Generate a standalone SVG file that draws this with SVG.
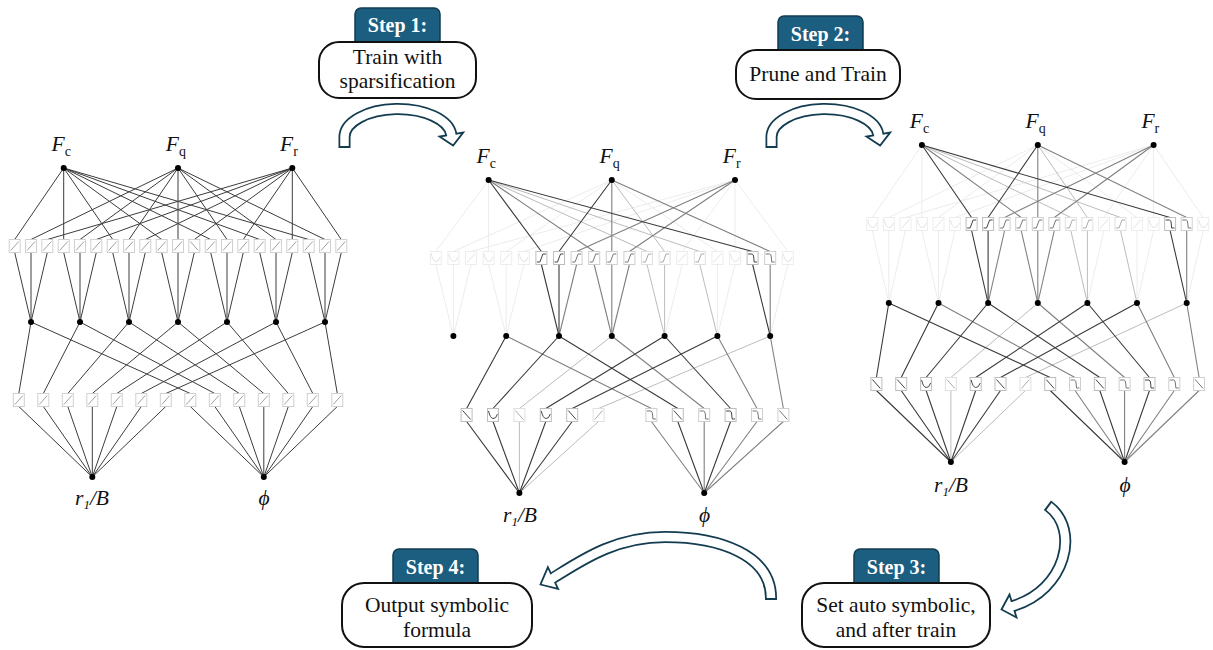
<svg xmlns="http://www.w3.org/2000/svg" width="1213" height="650" viewBox="0 0 1213 650">
<style>
  text{font-family:"Liberation Serif","DejaVu Serif",serif;fill:#111}
  .e1{fill:none;stroke:#3c3c3c;stroke-width:1}
  .eD{fill:none;stroke:#3a3a3a;stroke-width:1.1}
  .eM{fill:none;stroke:#808080;stroke-width:1.1}
  .eL{fill:none;stroke:#bcbcbc;stroke-width:1}
  .eF{fill:none;stroke:#ececec;stroke-width:1}
  .node{fill:#000}
  .b0{color:#d0d0d0;stroke:#a0a0a0}
  .bD{color:#bdbdbd;stroke:#444}
  .bM{color:#cfcfcf;stroke:#777}
  .bL{color:#e0e0e0;stroke:#aaa}
  .bF{color:#ededed;stroke:#e2e2e2}
  .lf{font-size:21.5px;font-style:italic}
  .sb{font-size:14px;font-style:normal}
  .lo{font-size:21.5px;font-style:italic}
  .tab{fill:#1b5e7f;stroke:#133c50;stroke-width:1.5}
  .card{fill:#fff;stroke:#111;stroke-width:2}
  .step{font-size:20px;font-weight:bold;fill:#fff;text-anchor:middle}
  .desc{font-size:21.5px;text-anchor:middle}
  .ar-o{fill:none;stroke:#133c50;stroke-width:12}
  .ar-i{fill:none;stroke:#fff;stroke-width:8.5}
  .ar-h{fill:#fff;stroke:#133c50;stroke-width:1.8}
</style>
<defs>
  <!-- activation boxes: border uses currentColor, curve inherits stroke -->
  <g id="bx-up"><rect x="-5.5" y="-6.5" width="11" height="13" fill="#fff" stroke="currentColor"/><path d="M-4 4.5L4 -4.5" fill="none"/></g>
  <g id="bx-dn"><rect x="-5.5" y="-6.5" width="11" height="13" fill="#fff" stroke="currentColor"/><path d="M-4 -4.5L4 4.5" fill="none"/></g>
  <g id="bx-st"><rect x="-5.5" y="-6.5" width="11" height="13" fill="#fff" stroke="currentColor"/><path d="M-4.5 4L-1.5 4L1.5 -4L4.5 -4" fill="none"/></g>
  <g id="bx-hk"><rect x="-5.5" y="-6.5" width="11" height="13" fill="#fff" stroke="currentColor"/><path d="M-4.5 -4L-0.5 -4Q1 -4 1.2 0L1.5 4L4.5 4" fill="none"/></g>
  <g id="bx-cv"><rect x="-5.5" y="-6.5" width="11" height="13" fill="#fff" stroke="currentColor"/><path d="M-4.5 -4Q-3 3 0 3.5Q3 4 4.5 -1" fill="none"/></g>
  <!-- curved block arrow used between the upper networks -->
  <g id="arc-arrow">
    <path class="ar-o" d="M344.5 148L344.5 137A53.5 28 0 0 1 451.3 134.6"/>
    <polygon class="ar-h" points="463.1,132.6 453.1,145.5 439.5,136.6"/>
    <path class="ar-i" d="M344.5 146L344.5 137A53.5 28 0 0 1 451.3 134.6L451.7 137.1"/>
  </g>
</defs>

<!-- ===== Network 1: 3-7-2 before training ===== -->
<g id="net1">
  <g id="net1-connectors" class="e1">
    <path d="M63.7 168L14.7 239.5M14.7 252.5L31 322"/>
    <path d="M178 168L31 239.5M31 252.5L31 322"/>
    <path d="M292.3 168L47.3 239.5M47.3 252.5L31 322"/>
    <path d="M63.7 168L63.7 239.5M63.7 252.5L80 322"/>
    <path d="M178 168L80 239.5M80 252.5L80 322"/>
    <path d="M292.3 168L96.3 239.5M96.3 252.5L80 322"/>
    <path d="M63.7 168L112.7 239.5M112.7 252.5L129 322"/>
    <path d="M178 168L129 239.5M129 252.5L129 322"/>
    <path d="M292.3 168L145.3 239.5M145.3 252.5L129 322"/>
    <path d="M63.7 168L161.7 239.5M161.7 252.5L178 322"/>
    <path d="M178 168L178 239.5M178 252.5L178 322"/>
    <path d="M292.3 168L194.3 239.5M194.3 252.5L178 322"/>
    <path d="M63.7 168L210.7 239.5M210.7 252.5L227 322"/>
    <path d="M178 168L227 239.5M227 252.5L227 322"/>
    <path d="M292.3 168L243.3 239.5M243.3 252.5L227 322"/>
    <path d="M63.7 168L259.7 239.5M259.7 252.5L276 322"/>
    <path d="M178 168L276 239.5M276 252.5L276 322"/>
    <path d="M292.3 168L292.3 239.5M292.3 252.5L276 322"/>
    <path d="M63.7 168L308.7 239.5M308.7 252.5L325 322"/>
    <path d="M178 168L325 239.5M325 252.5L325 322"/>
    <path d="M292.3 168L341.3 239.5M341.3 252.5L325 322"/>
    <path d="M31 322L18.8 393.5M18.8 406.5L92.3 477"/>
    <path d="M80 322L43.3 393.5M43.3 406.5L92.3 477"/>
    <path d="M129 322L67.8 393.5M67.8 406.5L92.3 477"/>
    <path d="M178 322L92.3 393.5M92.3 406.5L92.3 477"/>
    <path d="M227 322L116.8 393.5M116.8 406.5L92.3 477"/>
    <path d="M276 322L141.3 393.5M141.3 406.5L92.3 477"/>
    <path d="M325 322L165.8 393.5M165.8 406.5L92.3 477"/>
    <path d="M31 322L190.3 393.5M190.3 406.5L263.8 477"/>
    <path d="M80 322L214.8 393.5M214.8 406.5L263.8 477"/>
    <path d="M129 322L239.3 393.5M239.3 406.5L263.8 477"/>
    <path d="M178 322L263.8 393.5M263.8 406.5L263.8 477"/>
    <path d="M227 322L288.3 393.5M288.3 406.5L263.8 477"/>
    <path d="M276 322L312.8 393.5M312.8 406.5L263.8 477"/>
    <path d="M325 322L337.3 393.5M337.3 406.5L263.8 477"/>
  </g>
  <g id="net1-act1" class="b0">
    <use href="#bx-up" x="14.7" y="246"/><use href="#bx-up" x="31" y="246"/><use href="#bx-up" x="47.3" y="246"/>
    <use href="#bx-up" x="63.7" y="246"/><use href="#bx-up" x="80" y="246"/><use href="#bx-up" x="96.3" y="246"/>
    <use href="#bx-up" x="112.7" y="246"/><use href="#bx-up" x="129" y="246"/><use href="#bx-up" x="145.3" y="246"/>
    <use href="#bx-up" x="161.7" y="246"/><use href="#bx-up" x="178" y="246"/><use href="#bx-dn" x="194.3" y="246"/>
    <use href="#bx-up" x="210.7" y="246"/><use href="#bx-up" x="227" y="246"/><use href="#bx-up" x="243.3" y="246"/>
    <use href="#bx-up" x="259.7" y="246"/><use href="#bx-up" x="276" y="246"/><use href="#bx-up" x="292.3" y="246"/>
    <use href="#bx-up" x="308.7" y="246"/><use href="#bx-up" x="325" y="246"/><use href="#bx-up" x="341.3" y="246"/>
  </g>
  <g id="net1-act2" class="b0">
    <use href="#bx-up" x="18.8" y="400"/><use href="#bx-up" x="43.3" y="400"/><use href="#bx-up" x="67.8" y="400"/>
    <use href="#bx-up" x="92.3" y="400"/><use href="#bx-up" x="116.8" y="400"/><use href="#bx-up" x="141.3" y="400"/>
    <use href="#bx-up" x="165.8" y="400"/><use href="#bx-up" x="190.3" y="400"/><use href="#bx-up" x="214.8" y="400"/>
    <use href="#bx-up" x="239.3" y="400"/><use href="#bx-up" x="263.8" y="400"/><use href="#bx-up" x="288.3" y="400"/>
    <use href="#bx-up" x="312.8" y="400"/><use href="#bx-up" x="337.3" y="400"/>
  </g>
  <g id="net1-Fc"><circle class="node" cx="63.7" cy="168" r="3"/><text class="lf" x="51.5" y="151">F<tspan class="sb" dy="5">c</tspan></text></g>
  <g id="net1-Fq"><circle class="node" cx="178" cy="168" r="3"/><text class="lf" x="165.8" y="151">F<tspan class="sb" dy="5">q</tspan></text></g>
  <g id="net1-Fr"><circle class="node" cx="292.3" cy="168" r="3"/><text class="lf" x="280.1" y="151">F<tspan class="sb" dy="5">r</tspan></text></g>
  <g id="net1-hidden">
    <circle class="node" cx="31" cy="322" r="3"/><circle class="node" cx="80" cy="322" r="3"/><circle class="node" cx="129" cy="322" r="3"/>
    <circle class="node" cx="178" cy="322" r="3"/><circle class="node" cx="227" cy="322" r="3"/><circle class="node" cx="276" cy="322" r="3"/>
    <circle class="node" cx="325" cy="322" r="3"/>
  </g>
  <g id="net1-r1B"><circle class="node" cx="92.3" cy="477" r="3"/><text class="lo" x="75" y="505">r<tspan font-size="13" dy="4">1</tspan><tspan dy="-4">/B</tspan></text></g>
  <g id="net1-phi"><circle class="node" cx="263.8" cy="477" r="3"/><text class="lo" x="264" y="505" text-anchor="middle">ϕ</text></g>
</g>

<!-- ===== Network 2: after sparsification ===== -->
<g id="net2">
  <g id="net2-connectors">
    <path class="eF" d="M488.6 180L435.8 251.5M435.8 264.5L453.4 336"/>
    <path class="eF" d="M611.8 180L453.4 251.5M453.4 264.5L453.4 336"/>
    <path class="eF" d="M735 180L471 251.5M471 264.5L453.4 336"/>
    <path class="eF" d="M488.6 180L488.6 251.5M488.6 264.5L506.2 336"/>
    <path class="eF" d="M611.8 180L506.2 251.5M506.2 264.5L506.2 336"/>
    <path class="eF" d="M735 180L523.8 251.5M523.8 264.5L506.2 336"/>
    <path class="eF" d="M735 180L682.2 251.5M682.2 264.5L664.6 336"/>
    <path class="eF" d="M611.8 180L717.4 251.5M717.4 264.5L717.4 336"/>
    <path class="eF" d="M735 180L735 251.5M735 264.5L717.4 336"/>
    <path class="eF" d="M735 180L787.8 251.5M787.8 264.5L770.2 336"/>
    <path class="eL" d="M488.6 180L647 251.5M647 264.5L664.6 336"/>
    <path class="eL" d="M611.8 180L664.6 251.5M664.6 264.5L664.6 336"/>
    <path class="eL" d="M488.6 180L699.8 251.5M699.8 264.5L717.4 336"/>
    <path class="eM" d="M735 180L576.6 251.5M576.6 264.5L559 336"/>
    <path class="eM" d="M488.6 180L594.2 251.5M594.2 264.5L611.8 336"/>
    <path class="eM" d="M611.8 180L611.8 251.5M611.8 264.5L611.8 336"/>
    <path class="eM" d="M735 180L629.4 251.5M629.4 264.5L611.8 336"/>
    <path class="eM" d="M611.8 180L770.2 251.5M770.2 264.5L770.2 336"/>
    <path class="eD" d="M488.6 180L541.4 251.5M541.4 264.5L559 336"/>
    <path class="eD" d="M611.8 180L559 251.5M559 264.5L559 336"/>
    <path class="eD" d="M488.6 180L752.6 251.5M752.6 264.5L770.2 336"/>
    <path class="eL" d="M611.8 336L519.4 408.5M519.4 421.5L519.4 493"/>
    <path class="eL" d="M770.2 336L598.6 408.5M598.6 421.5L519.4 493"/>
    <path class="eM" d="M506.2 336L651.4 408.5M651.4 421.5L704.2 493"/>
    <path class="eM" d="M611.8 336L704.2 408.5M704.2 421.5L704.2 493"/>
    <path class="eM" d="M717.4 336L757 408.5M757 421.5L704.2 493"/>
    <path class="eM" d="M770.2 336L783.4 408.5M783.4 421.5L704.2 493"/>
    <path class="eD" d="M506.2 336L466.6 408.5M466.6 421.5L519.4 493"/>
    <path class="eD" d="M559 336L493 408.5M493 421.5L519.4 493"/>
    <path class="eD" d="M664.6 336L545.8 408.5M545.8 421.5L519.4 493"/>
    <path class="eD" d="M717.4 336L572.2 408.5M572.2 421.5L519.4 493"/>
    <path class="eD" d="M559 336L677.8 408.5M677.8 421.5L704.2 493"/>
    <path class="eD" d="M664.6 336L730.6 408.5M730.6 421.5L704.2 493"/>
  </g>
  <g id="net2-act1">
    <use href="#bx-cv" class="bF" x="435.8" y="258"/><use href="#bx-cv" class="bF" x="453.4" y="258"/><use href="#bx-up" class="bF" x="471" y="258"/>
    <use href="#bx-cv" class="bF" x="488.6" y="258"/><use href="#bx-up" class="bF" x="506.2" y="258"/><use href="#bx-cv" class="bF" x="523.8" y="258"/>
    <use href="#bx-st" class="bD" x="541.4" y="258"/><use href="#bx-st" class="bD" x="559" y="258"/><use href="#bx-st" class="bM" x="576.6" y="258"/>
    <use href="#bx-st" class="bM" x="594.2" y="258"/><use href="#bx-st" class="bM" x="611.8" y="258"/><use href="#bx-st" class="bM" x="629.4" y="258"/>
    <use href="#bx-st" class="bL" x="647" y="258"/><use href="#bx-st" class="bL" x="664.6" y="258"/><use href="#bx-up" class="bF" x="682.2" y="258"/>
    <use href="#bx-st" class="bL" x="699.8" y="258"/><use href="#bx-up" class="bF" x="717.4" y="258"/><use href="#bx-cv" class="bF" x="735" y="258"/>
    <use href="#bx-hk" class="bD" x="752.6" y="258"/><use href="#bx-hk" class="bM" x="770.2" y="258"/><use href="#bx-cv" class="bF" x="787.8" y="258"/>
  </g>
  <g id="net2-act2">
    <use href="#bx-dn" class="bD" x="466.6" y="415"/><use href="#bx-cv" class="bD" x="493" y="415"/><use href="#bx-dn" class="bL" x="519.4" y="415"/>
    <use href="#bx-cv" class="bD" x="545.8" y="415"/><use href="#bx-dn" class="bD" x="572.2" y="415"/><use href="#bx-up" class="bL" x="598.6" y="415"/>
    <use href="#bx-hk" class="bM" x="651.4" y="415"/><use href="#bx-dn" class="bD" x="677.8" y="415"/><use href="#bx-hk" class="bM" x="704.2" y="415"/>
    <use href="#bx-hk" class="bD" x="730.6" y="415"/><use href="#bx-hk" class="bM" x="757" y="415"/><use href="#bx-dn" class="bM" x="783.4" y="415"/>
  </g>
  <g id="net2-Fc"><circle class="node" cx="488.6" cy="180" r="3"/><text class="lf" x="476.5" y="163">F<tspan class="sb" dy="5">c</tspan></text></g>
  <g id="net2-Fq"><circle class="node" cx="611.8" cy="180" r="3"/><text class="lf" x="599.6" y="163">F<tspan class="sb" dy="5">q</tspan></text></g>
  <g id="net2-Fr"><circle class="node" cx="735" cy="180" r="3"/><text class="lf" x="722.8" y="163">F<tspan class="sb" dy="5">r</tspan></text></g>
  <g id="net2-hidden">
    <circle class="node" cx="453.4" cy="336" r="3"/><circle class="node" cx="506.2" cy="336" r="3"/><circle class="node" cx="559" cy="336" r="3"/>
    <circle class="node" cx="611.8" cy="336" r="3"/><circle class="node" cx="664.6" cy="336" r="3"/><circle class="node" cx="717.4" cy="336" r="3"/>
    <circle class="node" cx="770.2" cy="336" r="3"/>
  </g>
  <g id="net2-r1B"><circle class="node" cx="519.4" cy="493" r="3"/><text class="lo" x="503" y="522">r<tspan font-size="13" dy="4">1</tspan><tspan dy="-4">/B</tspan></text></g>
  <g id="net2-phi"><circle class="node" cx="704.2" cy="493" r="3"/><text class="lo" x="704.5" y="522" text-anchor="middle">ϕ</text></g>
</g>

<!-- ===== Network 3: pruned and retrained ===== -->
<g id="net3">
  <g id="net3-connectors">
    <path class="eF" d="M921.9 145L872.3 217.5M872.3 230.5L888.8 303"/>
    <path class="eF" d="M1037.8 145L888.8 217.5M888.8 230.5L888.8 303"/>
    <path class="eF" d="M1153.6 145L905.4 217.5M905.4 230.5L888.8 303"/>
    <path class="eF" d="M921.9 145L921.9 217.5M921.9 230.5L938.5 303"/>
    <path class="eF" d="M1037.8 145L938.5 217.5M938.5 230.5L938.5 303"/>
    <path class="eF" d="M1153.6 145L955 217.5M955 230.5L938.5 303"/>
    <path class="eF" d="M1153.6 145L1103.9 217.5M1103.9 230.5L1087.4 303"/>
    <path class="eF" d="M1037.8 145L1137 217.5M1137 230.5L1137 303"/>
    <path class="eF" d="M1153.6 145L1153.6 217.5M1153.6 230.5L1137 303"/>
    <path class="eF" d="M1153.6 145L1203.2 217.5M1203.2 230.5L1186.7 303"/>
    <path class="eL" d="M921.9 145L1070.8 217.5M1070.8 230.5L1087.4 303"/>
    <path class="eL" d="M1037.8 145L1087.4 217.5M1087.4 230.5L1087.4 303"/>
    <path class="eL" d="M921.9 145L1120.5 217.5M1120.5 230.5L1137 303"/>
    <path class="eM" d="M1153.6 145L1004.6 217.5M1004.6 230.5L988.1 303"/>
    <path class="eM" d="M921.9 145L1021.2 217.5M1021.2 230.5L1037.8 303"/>
    <path class="eM" d="M1037.8 145L1037.8 217.5M1037.8 230.5L1037.8 303"/>
    <path class="eM" d="M1153.6 145L1054.3 217.5M1054.3 230.5L1037.8 303"/>
    <path class="eM" d="M1037.8 145L1186.7 217.5M1186.7 230.5L1186.7 303"/>
    <path class="eD" d="M921.9 145L971.6 217.5M971.6 230.5L988.1 303"/>
    <path class="eD" d="M1037.8 145L988.1 217.5M988.1 230.5L988.1 303"/>
    <path class="eD" d="M921.9 145L1170.1 217.5M1170.1 230.5L1186.7 303"/>
    <path class="eL" d="M1037.8 303L950.9 377.5M950.9 390.5L950.9 462"/>
    <path class="eL" d="M1186.7 303L1025.4 377.5M1025.4 390.5L950.9 462"/>
    <path class="eM" d="M938.5 303L1075 377.5M1075 390.5L1124.6 462"/>
    <path class="eM" d="M1037.8 303L1124.6 377.5M1124.6 390.5L1124.6 462"/>
    <path class="eM" d="M1137 303L1174.3 377.5M1174.3 390.5L1124.6 462"/>
    <path class="eM" d="M1186.7 303L1199.1 377.5M1199.1 390.5L1124.6 462"/>
    <path class="eD" d="M888.8 303L876.4 377.5M876.4 390.5L950.9 462"/>
    <path class="eD" d="M938.5 303L901.2 377.5M901.2 390.5L950.9 462"/>
    <path class="eD" d="M988.1 303L926.1 377.5M926.1 390.5L950.9 462"/>
    <path class="eD" d="M1087.4 303L975.7 377.5M975.7 390.5L950.9 462"/>
    <path class="eD" d="M1137 303L1000.5 377.5M1000.5 390.5L950.9 462"/>
    <path class="eD" d="M888.8 303L1050.2 377.5M1050.2 390.5L1124.6 462"/>
    <path class="eD" d="M988.1 303L1099.8 377.5M1099.8 390.5L1124.6 462"/>
    <path class="eD" d="M1087.4 303L1149.5 377.5M1149.5 390.5L1124.6 462"/>
  </g>
  <g id="net3-act1">
    <use href="#bx-cv" class="bF" x="872.3" y="224"/><use href="#bx-cv" class="bF" x="888.8" y="224"/><use href="#bx-up" class="bF" x="905.4" y="224"/>
    <use href="#bx-cv" class="bF" x="921.9" y="224"/><use href="#bx-up" class="bF" x="938.5" y="224"/><use href="#bx-cv" class="bF" x="955" y="224"/>
    <use href="#bx-st" class="bD" x="971.6" y="224"/><use href="#bx-st" class="bD" x="988.1" y="224"/><use href="#bx-st" class="bM" x="1004.6" y="224"/>
    <use href="#bx-st" class="bM" x="1021.2" y="224"/><use href="#bx-st" class="bM" x="1037.8" y="224"/><use href="#bx-st" class="bM" x="1054.3" y="224"/>
    <use href="#bx-st" class="bL" x="1070.8" y="224"/><use href="#bx-st" class="bL" x="1087.4" y="224"/><use href="#bx-up" class="bF" x="1103.9" y="224"/>
    <use href="#bx-st" class="bL" x="1120.5" y="224"/><use href="#bx-up" class="bF" x="1137" y="224"/><use href="#bx-cv" class="bF" x="1153.6" y="224"/>
    <use href="#bx-hk" class="bD" x="1170.1" y="224"/><use href="#bx-hk" class="bM" x="1186.7" y="224"/><use href="#bx-cv" class="bF" x="1203.2" y="224"/>
  </g>
  <g id="net3-act2">
    <use href="#bx-dn" class="bD" x="876.4" y="384"/><use href="#bx-dn" class="bD" x="901.2" y="384"/><use href="#bx-cv" class="bD" x="926.1" y="384"/>
    <use href="#bx-dn" class="bL" x="950.9" y="384"/><use href="#bx-cv" class="bD" x="975.7" y="384"/><use href="#bx-dn" class="bD" x="1000.5" y="384"/>
    <use href="#bx-up" class="bL" x="1025.4" y="384"/><use href="#bx-dn" class="bD" x="1050.2" y="384"/><use href="#bx-hk" class="bM" x="1075" y="384"/>
    <use href="#bx-dn" class="bD" x="1099.8" y="384"/><use href="#bx-hk" class="bM" x="1124.6" y="384"/><use href="#bx-hk" class="bD" x="1149.5" y="384"/>
    <use href="#bx-hk" class="bM" x="1174.3" y="384"/><use href="#bx-dn" class="bM" x="1199.1" y="384"/>
  </g>
  <g id="net3-Fc"><circle class="node" cx="921.9" cy="145" r="3"/><text class="lf" x="909.8" y="128">F<tspan class="sb" dy="5">c</tspan></text></g>
  <g id="net3-Fq"><circle class="node" cx="1037.8" cy="145" r="3"/><text class="lf" x="1025.6" y="128">F<tspan class="sb" dy="5">q</tspan></text></g>
  <g id="net3-Fr"><circle class="node" cx="1153.6" cy="145" r="3"/><text class="lf" x="1141.4" y="128">F<tspan class="sb" dy="5">r</tspan></text></g>
  <g id="net3-hidden">
    <circle class="node" cx="888.8" cy="303" r="3"/><circle class="node" cx="938.5" cy="303" r="3"/><circle class="node" cx="988.1" cy="303" r="3"/>
    <circle class="node" cx="1037.8" cy="303" r="3"/><circle class="node" cx="1087.4" cy="303" r="3"/><circle class="node" cx="1137" cy="303" r="3"/>
    <circle class="node" cx="1186.7" cy="303" r="3"/>
  </g>
  <g id="net3-r1B"><circle class="node" cx="950.9" cy="462" r="3"/><text class="lo" x="934" y="492">r<tspan font-size="13" dy="4">1</tspan><tspan dy="-4">/B</tspan></text></g>
  <g id="net3-phi"><circle class="node" cx="1124.6" cy="462" r="3"/><text class="lo" x="1125" y="492" text-anchor="middle">ϕ</text></g>
</g>

<!-- ===== process arrows ===== -->
<g id="flow-arrows">
  <use id="arrow-step1" href="#arc-arrow"/>
  <use id="arrow-step2" href="#arc-arrow" x="427"/>
  <g id="arrow-step3">
    <path class="ar-o" d="M1047.4 505.3L1049 506.5C1080 530 1066 590 1013 606"/>
    <polygon class="ar-h" points="1009.5,594.5 1001.5,609.5 1016.5,617.5"/>
    <path class="ar-i" d="M1049 506.5C1080 530 1066 590 1013 606L1010.6 606.7"/>
  </g>
  <g id="arrow-step4">
    <path class="ar-o" d="M771 600L771 598C771 555 720 537 665 537C615 537 582 560 553 578"/>
    <polygon class="ar-h" points="547.9,567.1 540.5,584.5 558.1,588.9"/>
    <path class="ar-i" d="M771 598C771 555 720 537 665 537C615 537 582 560 553 578L550.7 579.4"/>
  </g>
</g>

<!-- ===== step labels ===== -->
<g id="step1">
  <rect class="tab" x="355" y="8" width="85" height="42" rx="6"/>
  <text class="step" x="397.5" y="32">Step 1:</text>
  <rect class="card" x="319" y="42" width="157" height="56" rx="20"/>
  <text class="desc" x="397.5" y="63.5">Train with</text>
  <text class="desc" x="397.5" y="87.5">sparsification</text>
</g>
<g id="step2">
  <rect class="tab" x="778" y="16" width="85" height="42" rx="6"/>
  <text class="step" x="820.5" y="40.5">Step 2:</text>
  <rect class="card" x="736" y="50" width="164" height="49" rx="20"/>
  <text class="desc" x="818" y="81">Prune and Train</text>
</g>
<g id="step3">
  <rect class="tab" x="854" y="549" width="85" height="42" rx="6"/>
  <text class="step" x="896.5" y="574">Step 3:</text>
  <rect class="card" x="802" y="583" width="188" height="64" rx="22"/>
  <text class="desc" x="896" y="612">Set auto symbolic,</text>
  <text class="desc" x="896" y="637">and after train</text>
</g>
<g id="step4">
  <rect class="tab" x="393" y="549" width="85" height="42" rx="6"/>
  <text class="step" x="435.5" y="574">Step 4:</text>
  <rect class="card" x="342" y="583" width="190" height="64" rx="22"/>
  <text class="desc" x="437" y="612">Output symbolic</text>
  <text class="desc" x="437" y="637">formula</text>
</g>
</svg>
